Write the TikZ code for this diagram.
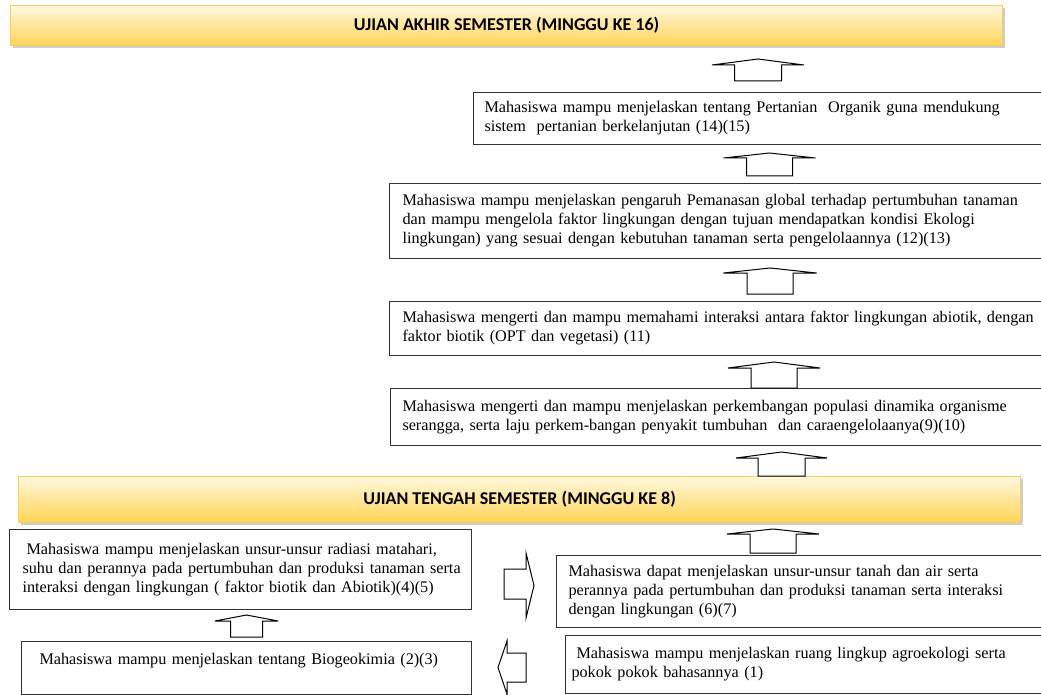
\documentclass[tikz,border=0pt]{standalone}
\usepackage{fontspec}
\setmainfont{Liberation Serif}
\newfontfamily\banfont{Carlito}
\usetikzlibrary{shadows}
\definecolor{banTop}{HTML}{FFF8DE}
\definecolor{banBot}{HTML}{FFD455}
\definecolor{banLine}{HTML}{F6CE5C}
\definecolor{boxLine}{HTML}{333333}
\newcommand\uparrowshape[6]{%
  \draw[blockarrow] (#1-#6,#4) -- (#1-#6,#3) -- (#1-#5,#3) -- (#1,#2) -- (#1+#5,#3) -- (#1+#6,#3) -- (#1+#6,#4) -- cycle;}
\begin{document}
\begin{tikzpicture}[x=1pt,y=-1pt,
  banner/.style={draw=banLine, line width=1.2pt, top color=banTop, bottom color=banBot,
    drop shadow={shadow xshift=2pt, shadow yshift=-2.5pt, fill=black!38},
    inner sep=0pt, anchor=north west, font=\banfont\bfseries\fontsize{18}{20}\selectfont},
  txtbox/.style={draw=boxLine, line width=1pt, anchor=north west, align=left,
    inner ysep=0pt, font=\fontsize{16.2}{19}\selectfont},
  blockarrow/.style={draw=black, line width=1pt, fill=white, line join=miter}
]
\useasboundingbox (0,0) rectangle (1041,695);
\clip (0,0) rectangle (1041,695);

% banners
\node[banner, minimum width=992pt, minimum height=40pt] (uas) at (10,5) {UJIAN AKHIR SEMESTER (MINGGU KE 16)};
\node[banner, minimum width=1002pt, minimum height=46pt] (uts) at (18,476) {UJIAN TENGAH SEMESTER (MINGGU KE 8)};

% text boxes
\node[txtbox, inner xsep=11pt, text width=570pt, minimum height=52pt] (b14) at (473,92)
  {Mahasiswa mampu menjelaskan tentang Pertanian\ \ Organik guna mendukung\\
   sistem\ \ pertanian berkelanjutan (14)(15)};
\node[txtbox, inner xsep=13pt, text width=660pt, minimum height=75pt] (b12) at (389,183)
  {Mahasiswa mampu menjelaskan pengaruh Pemanasan global terhadap pertumbuhan tanaman\\
   dan mampu mengelola faktor lingkungan dengan tujuan mendapatkan kondisi Ekologi\\
   lingkungan) yang sesuai dengan kebutuhan tanaman serta pengelolaannya (12)(13)};
\node[txtbox, inner xsep=13pt, text width=660pt, minimum height=54pt] (b11) at (389,301)
  {Mahasiswa mengerti dan mampu memahami interaksi antara faktor lingkungan abiotik, dengan\\
   faktor biotik (OPT dan vegetasi) (11)};
\node[txtbox, inner xsep=12pt, text width=660pt, minimum height=57pt] (b9) at (390,388)
  {Mahasiswa mengerti dan mampu menjelaskan perkembangan populasi dinamika organisme\\
   serangga, serta laju perkem-bangan penyakit tumbuhan\ \ dan caraengelolaanya(9)(10)};
\node[txtbox, inner xsep=13pt, text width=436pt, minimum height=80pt] (l1) at (9,529)
  {\mbox{\hspace*{4pt}Mahasiswa mampu menjelaskan unsur-unsur radiasi matahari,}\\
   \mbox{suhu dan perannya pada pertumbuhan dan produksi tanaman serta}\\
   \mbox{interaksi dengan lingkungan ( faktor biotik dan Abiotik)(4)(5)}};
\node[txtbox, inner xsep=12pt, text width=490pt, minimum height=72pt] (r1) at (556,555)
  {Mahasiswa dapat menjelaskan unsur-unsur tanah dan air serta\\
   perannya pada pertumbuhan dan produksi tanaman serta interaksi\\
   dengan lingkungan (6)(7)};
\node[txtbox, inner xsep=18pt, text width=414pt, minimum height=53pt] (l2) at (21,641)
  {Mahasiswa mampu menjelaskan tentang Biogeokimia (2)(3)\\ \mbox{}};
\node[txtbox, inner xsep=6pt, text width=500pt, minimum height=58pt] (r2) at (565,635)
  {\hspace*{5pt}Mahasiswa mampu menjelaskan ruang lingkup agroekologi serta\\
   pokok pokok bahasannya (1)};

% block arrows (up)
\uparrowshape{758}{59}{65}{81}{46}{23.5}
\uparrowshape{769.5}{153}{158}{176}{46}{23}
\uparrowshape{770}{268}{273}{294}{46.5}{23}
\uparrowshape{774}{362}{368}{388}{46}{23}
\uparrowshape{781.5}{452}{458}{476}{45.5}{23.5}
\uparrowshape{773}{529}{534}{553}{46}{23}
\uparrowshape{246.5}{615}{621}{637}{31.5}{16}
% right arrow
\draw[blockarrow] (504,569) -- (526,569) -- (526,553) -- (534,585.5) -- (526,618) -- (526,599) -- (504,599) -- cycle;
% left arrow
\draw[blockarrow] (526,653) -- (507,653) -- (507,641) -- (498,667.5) -- (507,694) -- (507,682) -- (526,682) -- cycle;
\end{tikzpicture}
\end{document}
